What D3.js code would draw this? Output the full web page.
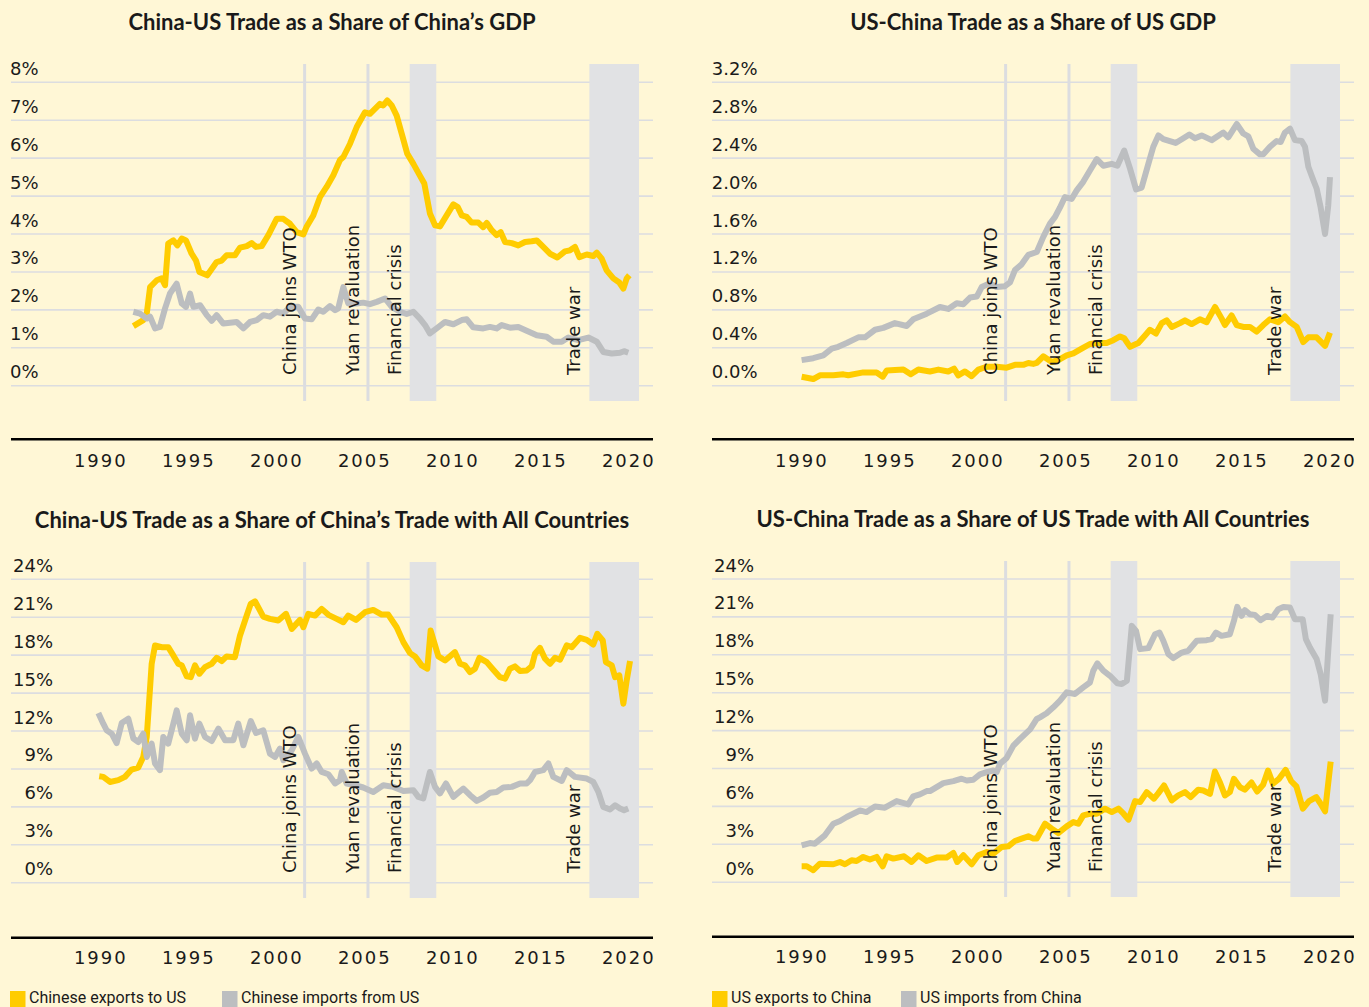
<!DOCTYPE html>
<html><head><meta charset="utf-8">
<script src="https://cdn.jsdelivr.net/npm/d3@7"></script>
<style>
html,body{margin:0;padding:0;background:#FFF7D6;}
svg{display:block;}
</style></head>
<body>
<svg id="c" width="1369" height="1007"></svg>
<script>
// ---------- DATA ----------
const xTickYears = [1990,1995,2000,2005,2010,2015,2020];
const ticksChinaGdp = [0,1,2,3,4,5,6,7,8];
const ticksUsGdp = [0,0.4,0.8,1.2,1.6,2.0,2.4,2.8,3.2];
const ticksShare = [0,3,6,9,12,15,18,21,24];

const titles = [
  "China-US Trade as a Share of China’s GDP",
  "US-China Trade as a Share of US GDP",
  "China-US Trade as a Share of China’s Trade with All Countries",
  "US-China Trade as a Share of US Trade with All Countries"
];
const legendLeft = ["Chinese exports to US","Chinese imports from US"];
const legendRight = ["US exports to China","US imports from China"];

const eventLines = [{label:"China joins WTO", year:2001.95},{label:"Yuan revaluation", year:2005.55}];
const eventBands = [{label:"Financial crisis", from:2007.92, to:2009.43},{label:"Trade war", from:2018.13, to:2020.95}];

// Panel 1: China-US trade, % of China GDP
const cnGdpExports = [[1992.22,1.57],[1992.78,1.73],[1992.98,1.9],[1993.17,2.6],[1993.55,2.78],[1993.83,2.83],[1994.02,2.65],[1994.2,3.75],[1994.49,3.83],[1994.72,3.7],[1994.97,3.88],[1995.21,3.83],[1995.53,3.48],[1995.78,3.3],[1995.97,3.0],[1996.42,2.91],[1996.95,3.26],[1997.24,3.3],[1997.52,3.44],[1997.99,3.44],[1998.28,3.64],[1998.66,3.68],[1998.94,3.76],[1999.19,3.66],[1999.51,3.68],[1999.89,3.97],[2000.36,4.4],[2000.74,4.4],[2001.12,4.27],[2001.5,4.05],[2001.88,3.99],[2002.07,4.2],[2002.44,4.49],[2002.82,4.97],[2003.2,5.24],[2003.58,5.55],[2003.96,5.95],[2004.15,6.03],[2004.53,6.38],[2004.91,6.82],[2005.38,7.21],[2005.66,7.17],[2006.23,7.43],[2006.42,7.39],[2006.65,7.52],[2006.9,7.39],[2007.18,7.12],[2007.47,6.64],[2007.78,6.12],[2008.13,5.85],[2008.5,5.54],[2008.75,5.33],[2009.07,4.54],[2009.36,4.23],[2009.64,4.2],[2010.02,4.49],[2010.4,4.78],[2010.65,4.71],[2010.88,4.49],[2011.16,4.45],[2011.44,4.3],[2011.82,4.3],[2012.1,4.18],[2012.3,4.29],[2012.58,4.1],[2012.86,3.97],[2013.09,4.05],[2013.34,3.79],[2013.72,3.76],[2014.09,3.7],[2014.47,3.79],[2014.85,3.81],[2015.14,3.83],[2015.51,3.66],[2015.89,3.48],[2016.31,3.38],[2016.74,3.54],[2017.03,3.57],[2017.31,3.66],[2017.56,3.39],[2017.98,3.46],[2018.35,3.42],[2018.55,3.51],[2018.83,3.35],[2019.11,3.04],[2019.49,2.83],[2019.83,2.72],[2020.06,2.56],[2020.25,2.83],[2020.4,2.91]];
const cnGdpImports = [[1992.22,1.95],[1992.6,1.9],[1992.98,1.77],[1993.17,1.82],[1993.45,1.51],[1993.73,1.55],[1994.02,2.04],[1994.3,2.43],[1994.68,2.69],[1994.97,2.17],[1995.21,2.08],[1995.44,2.43],[1995.63,2.08],[1996.01,2.12],[1996.39,1.86],[1996.67,1.71],[1996.95,1.86],[1997.33,1.64],[1997.71,1.66],[1998.09,1.68],[1998.47,1.51],[1998.85,1.68],[1999.23,1.73],[1999.6,1.86],[1999.98,1.82],[2000.36,1.95],[2000.74,1.9],[2001.12,2.08],[2001.59,2.08],[2001.97,1.77],[2002.35,1.75],[2002.73,2.01],[2003.01,1.95],[2003.39,2.1],[2003.68,1.99],[2003.86,2.04],[2004.15,2.6],[2004.43,2.17],[2004.91,2.17],[2005.28,2.19],[2005.66,2.15],[2006.05,2.21],[2006.52,2.3],[2006.9,2.08],[2007.37,1.95],[2007.75,1.89],[2008.13,1.95],[2008.5,1.77],[2008.79,1.6],[2009.07,1.38],[2009.45,1.51],[2009.93,1.68],[2010.4,1.62],[2010.88,1.73],[2011.16,1.75],[2011.53,1.54],[2012.1,1.51],[2012.48,1.55],[2012.86,1.51],[2013.15,1.6],[2013.62,1.53],[2014.09,1.55],[2014.47,1.47],[2015.14,1.33],[2015.7,1.29],[2016.08,1.16],[2016.56,1.16],[2016.93,1.27],[2017.5,1.2],[2018.07,1.27],[2018.55,1.16],[2018.92,0.89],[2019.4,0.85],[2019.87,0.87],[2020.1,0.91],[2020.34,0.87]];

// Panel 2: US-China trade, % of US GDP
const usGdpExports = [[1990.36,0.095],[1991.02,0.07],[1991.4,0.11],[1992.16,0.11],[1992.73,0.12],[1993.01,0.11],[1993.86,0.14],[1994.62,0.14],[1994.97,0.095],[1995.19,0.16],[1996.14,0.17],[1996.56,0.12],[1996.99,0.17],[1997.65,0.15],[1998.13,0.17],[1998.69,0.15],[1999.02,0.18],[1999.26,0.11],[1999.64,0.15],[2000.02,0.1],[2000.4,0.17],[2000.87,0.2],[2001.44,0.2],[2002.01,0.19],[2002.48,0.22],[2002.95,0.22],[2003.24,0.24],[2003.52,0.23],[2003.72,0.24],[2004.09,0.31],[2004.57,0.25],[2004.94,0.27],[2005.42,0.32],[2005.8,0.34],[2006.27,0.39],[2006.74,0.44],[2007.22,0.45],[2007.69,0.45],[2008.07,0.48],[2008.45,0.52],[2008.69,0.5],[2009.02,0.41],[2009.49,0.45],[2009.87,0.53],[2010.15,0.59],[2010.49,0.55],[2010.82,0.66],[2011.1,0.69],[2011.39,0.62],[2011.86,0.66],[2012.14,0.69],[2012.52,0.65],[2012.99,0.7],[2013.37,0.67],[2013.85,0.83],[2014.22,0.71],[2014.41,0.64],[2014.79,0.74],[2015.08,0.64],[2015.45,0.62],[2015.83,0.62],[2016.21,0.57],[2016.59,0.64],[2016.97,0.7],[2017.44,0.67],[2017.82,0.73],[2018.11,0.67],[2018.49,0.62],[2018.86,0.46],[2019.15,0.51],[2019.62,0.51],[2020.1,0.42],[2020.38,0.56]];
const usGdpImports = [[1990.36,0.27],[1991.02,0.29],[1991.59,0.32],[1992.07,0.39],[1992.44,0.41],[1992.92,0.45],[1993.58,0.51],[1993.96,0.51],[1994.53,0.59],[1995.0,0.61],[1995.66,0.66],[1996.33,0.63],[1996.7,0.7],[1997.47,0.76],[1998.22,0.83],[1998.69,0.81],[1999.17,0.87],[1999.55,0.86],[1999.93,0.93],[2000.31,0.94],[2000.59,1.04],[2001.06,1.08],[2001.44,1.04],[2001.91,1.05],[2002.2,1.09],[2002.48,1.22],[2002.86,1.28],[2003.24,1.38],[2003.72,1.41],[2004.09,1.57],[2004.47,1.71],[2004.76,1.78],[2005.04,1.88],[2005.32,1.99],[2005.7,1.97],[2005.99,2.06],[2006.36,2.15],[2006.74,2.27],[2007.13,2.39],[2007.5,2.32],[2007.98,2.34],[2008.3,2.32],[2008.69,2.48],[2009.02,2.29],[2009.36,2.07],[2009.68,2.09],[2010.06,2.34],[2010.34,2.52],[2010.63,2.64],[2010.91,2.6],[2011.61,2.56],[2012.05,2.61],[2012.39,2.65],[2012.71,2.61],[2013.09,2.64],[2013.66,2.59],[2014.32,2.67],[2014.6,2.62],[2015.08,2.76],[2015.45,2.66],[2015.74,2.63],[2016.02,2.5],[2016.4,2.44],[2016.59,2.44],[2016.97,2.52],[2017.35,2.58],[2017.58,2.57],[2017.82,2.67],[2018.11,2.71],[2018.39,2.59],[2018.77,2.58],[2018.96,2.52],[2019.15,2.31],[2019.43,2.17],[2019.62,2.08],[2019.85,1.88],[2020.1,1.6],[2020.28,1.9],[2020.38,2.2]];

// Panel 3: China-US trade, % of China's trade with all countries
const cnShareExports = [[1990.28,8.42],[1990.51,8.37],[1990.89,7.97],[1991.36,8.11],[1991.74,8.37],[1992.12,8.95],[1992.5,9.11],[1992.78,9.95],[1992.98,11.53],[1993.12,14.42],[1993.26,17.32],[1993.45,18.77],[1993.83,18.63],[1994.2,18.63],[1994.49,17.98],[1994.77,17.32],[1994.97,17.19],[1995.25,16.32],[1995.48,16.26],[1995.72,17.19],[1995.97,16.53],[1996.29,17.05],[1996.67,17.32],[1996.95,17.79],[1997.24,17.53],[1997.52,17.9],[1997.99,17.84],[1998.28,19.56],[1998.66,21.13],[1998.89,22.06],[1999.13,22.26],[1999.6,21.05],[1999.98,20.87],[2000.45,20.74],[2000.89,21.27],[2001.22,20.08],[2001.69,20.79],[2001.88,20.21],[2002.16,21.27],[2002.54,21.13],[2002.92,21.66],[2003.3,21.19],[2003.77,20.87],[2004.15,20.6],[2004.43,21.13],[2004.87,20.79],[2005.38,21.4],[2005.85,21.58],[2006.33,21.21],[2006.7,21.21],[2007.18,20.21],[2007.56,19.03],[2007.94,18.16],[2008.22,17.9],[2008.6,17.19],[2008.92,16.93],[2009.11,19.95],[2009.55,17.9],[2009.93,17.58],[2010.49,18.24],[2010.78,17.32],[2011.06,17.19],[2011.35,16.66],[2011.63,16.93],[2011.88,17.79],[2012.3,17.45],[2012.67,16.85],[2013.05,16.26],[2013.34,16.14],[2013.62,16.93],[2013.9,17.11],[2014.19,16.74],[2014.57,16.79],[2014.85,17.11],[2015.04,18.11],[2015.32,18.58],[2015.61,17.72],[2015.89,17.32],[2016.18,17.79],[2016.46,17.64],[2016.84,18.77],[2017.13,18.63],[2017.6,19.37],[2017.98,19.21],[2018.35,18.84],[2018.58,19.69],[2018.89,19.16],[2019.07,17.45],[2019.4,17.19],[2019.59,16.26],[2019.83,16.4],[2020.06,14.16],[2020.25,16.0],[2020.44,17.53]];
const cnShareImports = [[1990.23,13.42],[1990.51,12.58],[1990.7,12.06],[1990.99,11.79],[1991.27,11.05],[1991.56,12.63],[1991.93,12.98],[1992.22,11.4],[1992.5,11.13],[1992.78,11.79],[1992.98,9.95],[1993.26,11.0],[1993.45,9.43],[1993.73,8.9],[1993.92,11.53],[1994.2,11.0],[1994.49,12.58],[1994.68,13.63],[1994.97,11.79],[1995.25,11.27],[1995.44,13.24],[1995.72,11.4],[1995.97,12.58],[1996.29,11.53],[1996.67,11.21],[1997.05,12.19],[1997.43,11.27],[1997.9,11.27],[1998.18,12.58],[1998.47,10.87],[1998.89,12.79],[1999.19,11.84],[1999.6,12.06],[1999.98,10.21],[2000.27,9.95],[2000.55,10.61],[2000.74,9.69],[2001.22,10.48],[2001.59,11.53],[2001.97,10.21],[2002.35,9.03],[2002.64,9.43],[2002.92,8.76],[2003.3,8.58],[2003.68,7.85],[2003.96,8.11],[2004.06,8.76],[2004.34,7.85],[2004.81,7.71],[2005.28,7.53],[2005.85,7.18],[2006.42,7.71],[2006.99,7.58],[2007.56,7.26],[2008.13,7.32],[2008.41,6.79],[2008.69,6.66],[2009.07,8.76],[2009.36,7.58],[2009.64,7.06],[2009.98,7.85],[2010.4,6.79],[2010.97,7.45],[2011.35,6.92],[2011.73,6.47],[2012.1,6.74],[2012.48,7.11],[2012.86,7.18],[2013.24,7.53],[2013.72,7.58],[2014.19,7.85],[2014.57,7.85],[2014.76,8.11],[2015.04,8.76],[2015.51,8.9],[2015.8,9.43],[2016.08,8.37],[2016.56,8.05],[2016.84,8.9],[2017.31,8.37],[2017.98,8.24],[2018.35,7.97],[2018.64,7.18],[2018.92,6.0],[2019.3,5.79],[2019.59,6.13],[2019.87,5.87],[2020.1,5.74],[2020.34,5.87]];

// Panel 4: US-China trade, % of US trade with all countries
const usShareExports = [[1990.36,1.26],[1990.65,1.26],[1991.02,0.95],[1991.4,1.47],[1992.16,1.42],[1992.54,1.6],[1992.82,1.42],[1993.2,1.74],[1993.48,1.68],[1993.86,2.0],[1994.24,1.79],[1994.62,2.0],[1994.97,1.26],[1995.19,2.05],[1995.57,1.87],[1996.18,2.05],[1996.61,1.6],[1996.99,2.13],[1997.46,1.68],[1998.03,1.95],[1998.6,1.95],[1998.98,2.32],[1999.2,1.6],[1999.55,2.13],[2000.02,1.42],[2000.4,2.13],[2000.87,2.39],[2001.25,2.26],[2001.73,2.79],[2002.1,2.84],[2002.48,3.26],[2002.86,3.45],[2003.24,3.63],[2003.52,3.45],[2003.72,3.45],[2004.19,4.63],[2004.57,4.24],[2004.94,3.89],[2005.42,4.42],[2005.8,4.76],[2006.08,4.63],[2006.36,5.29],[2006.74,5.42],[2007.13,5.42],[2007.6,5.82],[2007.98,5.55],[2008.36,5.82],[2008.65,5.42],[2008.93,4.95],[2009.31,6.42],[2009.59,6.34],[2009.97,7.13],[2010.38,6.61],[2010.63,7.05],[2010.95,7.66],[2011.39,6.47],[2011.76,6.87],[2012.14,7.13],[2012.46,6.74],[2012.89,7.32],[2013.18,7.26],[2013.56,6.99],[2013.84,8.76],[2014.13,7.89],[2014.41,6.87],[2014.69,7.13],[2014.92,8.18],[2015.26,7.53],[2015.54,7.32],[2015.92,7.89],[2016.24,7.18],[2016.58,7.71],[2016.86,8.84],[2017.14,7.79],[2017.48,8.18],[2017.86,8.89],[2018.18,7.99],[2018.47,7.58],[2018.84,5.82],[2019.19,6.42],[2019.6,6.74],[2019.82,6.27],[2020.1,5.61],[2020.28,7.84],[2020.42,9.55]];
const usShareImports = [[1990.36,2.92],[1990.83,3.1],[1991.11,3.05],[1991.68,3.71],[1992.16,4.63],[1992.54,4.84],[1992.92,5.16],[1993.67,5.68],[1994.05,5.55],[1994.53,6.0],[1995.09,5.9],[1995.76,6.42],[1996.42,6.16],[1996.7,6.79],[1997.08,6.95],[1997.46,7.21],[1997.65,7.21],[1998.41,7.84],[1998.98,8.0],[1999.45,8.19],[1999.74,8.05],[2000.11,8.11],[2000.49,8.53],[2000.87,8.71],[2001.25,8.84],[2001.44,8.71],[2001.63,9.37],[2002.01,9.84],[2002.39,10.81],[2002.77,11.34],[2003.34,12.1],[2003.72,12.92],[2003.9,13.05],[2004.28,13.37],[2004.66,13.84],[2005.04,14.37],[2005.42,15.03],[2005.89,14.9],[2006.36,15.42],[2006.74,15.81],[2006.93,16.74],[2007.16,17.32],[2007.5,16.74],[2007.88,16.34],[2008.3,15.74],[2008.55,15.69],[2008.84,15.95],[2009.12,20.29],[2009.36,19.89],[2009.59,18.45],[2010.06,18.53],[2010.44,19.63],[2010.69,19.76],[2010.91,19.11],[2011.2,18.05],[2011.48,17.74],[2011.96,18.18],[2012.33,18.32],[2012.81,19.11],[2013.37,19.16],[2013.66,19.24],[2013.9,19.76],[2014.22,19.5],[2014.69,19.63],[2014.92,20.68],[2015.11,21.79],[2015.36,21.08],[2015.54,21.53],[2015.83,21.21],[2016.11,21.16],[2016.43,20.74],[2016.81,21.08],[2017.11,20.95],[2017.44,21.61],[2017.73,21.79],[2018.1,21.74],[2018.39,20.82],[2018.83,20.82],[2019.01,19.24],[2019.24,18.58],[2019.62,17.66],[2019.85,16.47],[2020.1,14.37],[2020.28,18.32],[2020.42,21.21]];

// ---------- LAYOUT ----------
const YELLOW = "#FFCC00", GRAY = "#BCBEC0", GRID = "#DCDDE0", BAND = "#E1E2E4", INK = "#1A1A1A";
const tickFont = "'DejaVu Sans', sans-serif";
const titleFont = "Lato, 'Open Sans', sans-serif";
const legendFont = "Roboto, 'Liberation Sans', sans-serif";

const panels = [
  {title:titles[0], ox:0,   top:82.3, bottom:385.7, ticks:ticksChinaGdp, fmt:d=>d+"%", labelX:38.5, series:[cnGdpExports, cnGdpImports], titleY:29.5, axisY:439.3, yearY:467, evTop:64, evBottom:401, evLabelY:375},
  {title:titles[1], ox:701, top:82.3, bottom:385.7, ticks:ticksUsGdp, fmt:d=>d.toFixed(1)+"%", labelX:757.5, series:[usGdpExports, usGdpImports], titleY:29.5, axisY:439.3, yearY:467, evTop:64, evBottom:401, evLabelY:375},
  {title:titles[2], ox:0,   top:579.3, bottom:882.7, ticks:ticksShare, fmt:d=>d+"%", labelX:53, series:[cnShareExports, cnShareImports], titleY:527.5, axisY:937.7, yearY:963.5, evTop:562, evBottom:898, evLabelY:873},
  {title:titles[3], ox:701, top:579.0, bottom:882.2, ticks:ticksShare, fmt:d=>d+"%", labelX:754, series:[usShareExports, usShareImports], titleY:526.5, axisY:936.7, yearY:962.5, evTop:561, evBottom:897, evLabelY:872}
];

const svg = d3.select("#c");
svg.append("rect").attr("width",1369).attr("height",1007).attr("fill","#FFF7D6");

panels.forEach(p => {
  const g = svg.append("g");
  const gx0 = 11 + p.ox, gx1 = 653 + p.ox;
  const x = d3.scaleLinear().domain([1990, 2020]).range([94.3 + p.ox, 622.3 + p.ox]);
  const y = d3.scaleLinear().domain([p.ticks[0], p.ticks[p.ticks.length-1]]).range([p.bottom, p.top]);

  // title
  g.append("text").attr("x", (gx0+gx1)/2).attr("y", p.titleY)
    .attr("text-anchor","middle").attr("font-family",titleFont).attr("font-weight",700)
    .attr("font-size",22).attr("fill",INK).text(p.title);

  // gridlines
  g.selectAll(".grid").data(p.ticks).join("line")
    .attr("x1",gx0).attr("x2",gx1).attr("y1",d=>y(d)).attr("y2",d=>y(d))
    .attr("stroke",GRID).attr("stroke-width",1.6);

  // y tick labels
  g.selectAll(".yl").data(p.ticks).join("text")
    .attr("x",p.labelX).attr("y",d=>y(d)-7.5).attr("text-anchor","end")
    .attr("font-family",tickFont).attr("font-size",18).attr("fill",INK)
    .text(p.fmt);

  // event bands
  eventBands.forEach(b => {
    g.append("rect").attr("x",x(b.from)).attr("width",x(b.to)-x(b.from))
      .attr("y",p.evTop).attr("height",p.evBottom-p.evTop).attr("fill",BAND);
  });
  eventLines.forEach(e => {
    g.append("line").attr("x1",x(e.year)).attr("x2",x(e.year))
      .attr("y1",p.evTop).attr("y2",p.evBottom).attr("stroke",GRID).attr("stroke-width",3);
  });

  // lines
  const line = d3.line().x(d=>x(d[0])).y(d=>y(d[1])).curve(d3.curveLinear);
  [[p.series[0],YELLOW],[p.series[1],GRAY]].forEach(([s,c]) => {
    g.append("path").datum(s).attr("d",line).attr("fill","none")
      .attr("stroke",c).attr("stroke-width",6).attr("stroke-linejoin","round").attr("stroke-linecap","butt");
  });

  // event labels
  const evLabels = eventLines.map(e=>({label:e.label, at:e.year})).concat(eventBands.map(b=>({label:b.label, at:b.from})));
  evLabels.forEach(e => {
    const tx = x(e.at) - 9;
    g.append("text").attr("transform",`translate(${tx},${p.evLabelY}) rotate(-90)`)
      .attr("font-family",tickFont).attr("font-size",18).attr("fill",INK).text(e.label);
  });

  // x axis
  g.append("line").attr("x1",gx0).attr("x2",gx1).attr("y1",p.axisY).attr("y2",p.axisY)
    .attr("stroke","#000").attr("stroke-width",2.6);
  const ax = d3.axisBottom(x).tickValues(xTickYears).tickSize(0).tickFormat(d3.format("d"));
  const axg = g.append("g").attr("transform",`translate(0,${p.yearY})`).call(ax);
  axg.select(".domain").remove();
  axg.selectAll("text").attr("y",0).attr("dy",0).attr("dx",6)
    .attr("font-family",tickFont).attr("font-size",18).attr("fill",INK)
    .attr("letter-spacing","2px");
});

// legends
function legend(ox, labels, gap) {
  const g = svg.append("g");
  let cx = 10 + ox;
  labels.forEach((l,i) => {
    g.append("rect").attr("x",cx).attr("y",991).attr("width",15.5).attr("height",16)
      .attr("fill", i===0?YELLOW:GRAY);
    g.append("text").attr("x",cx+19).attr("y",1002.5)
      .attr("font-family",legendFont).attr("font-size",16).attr("fill",INK).text(l);
    cx = gap + ox;
  });
}
legend(0, legendLeft, 222);
legend(702, legendRight, 199);
</script>
</body></html>
